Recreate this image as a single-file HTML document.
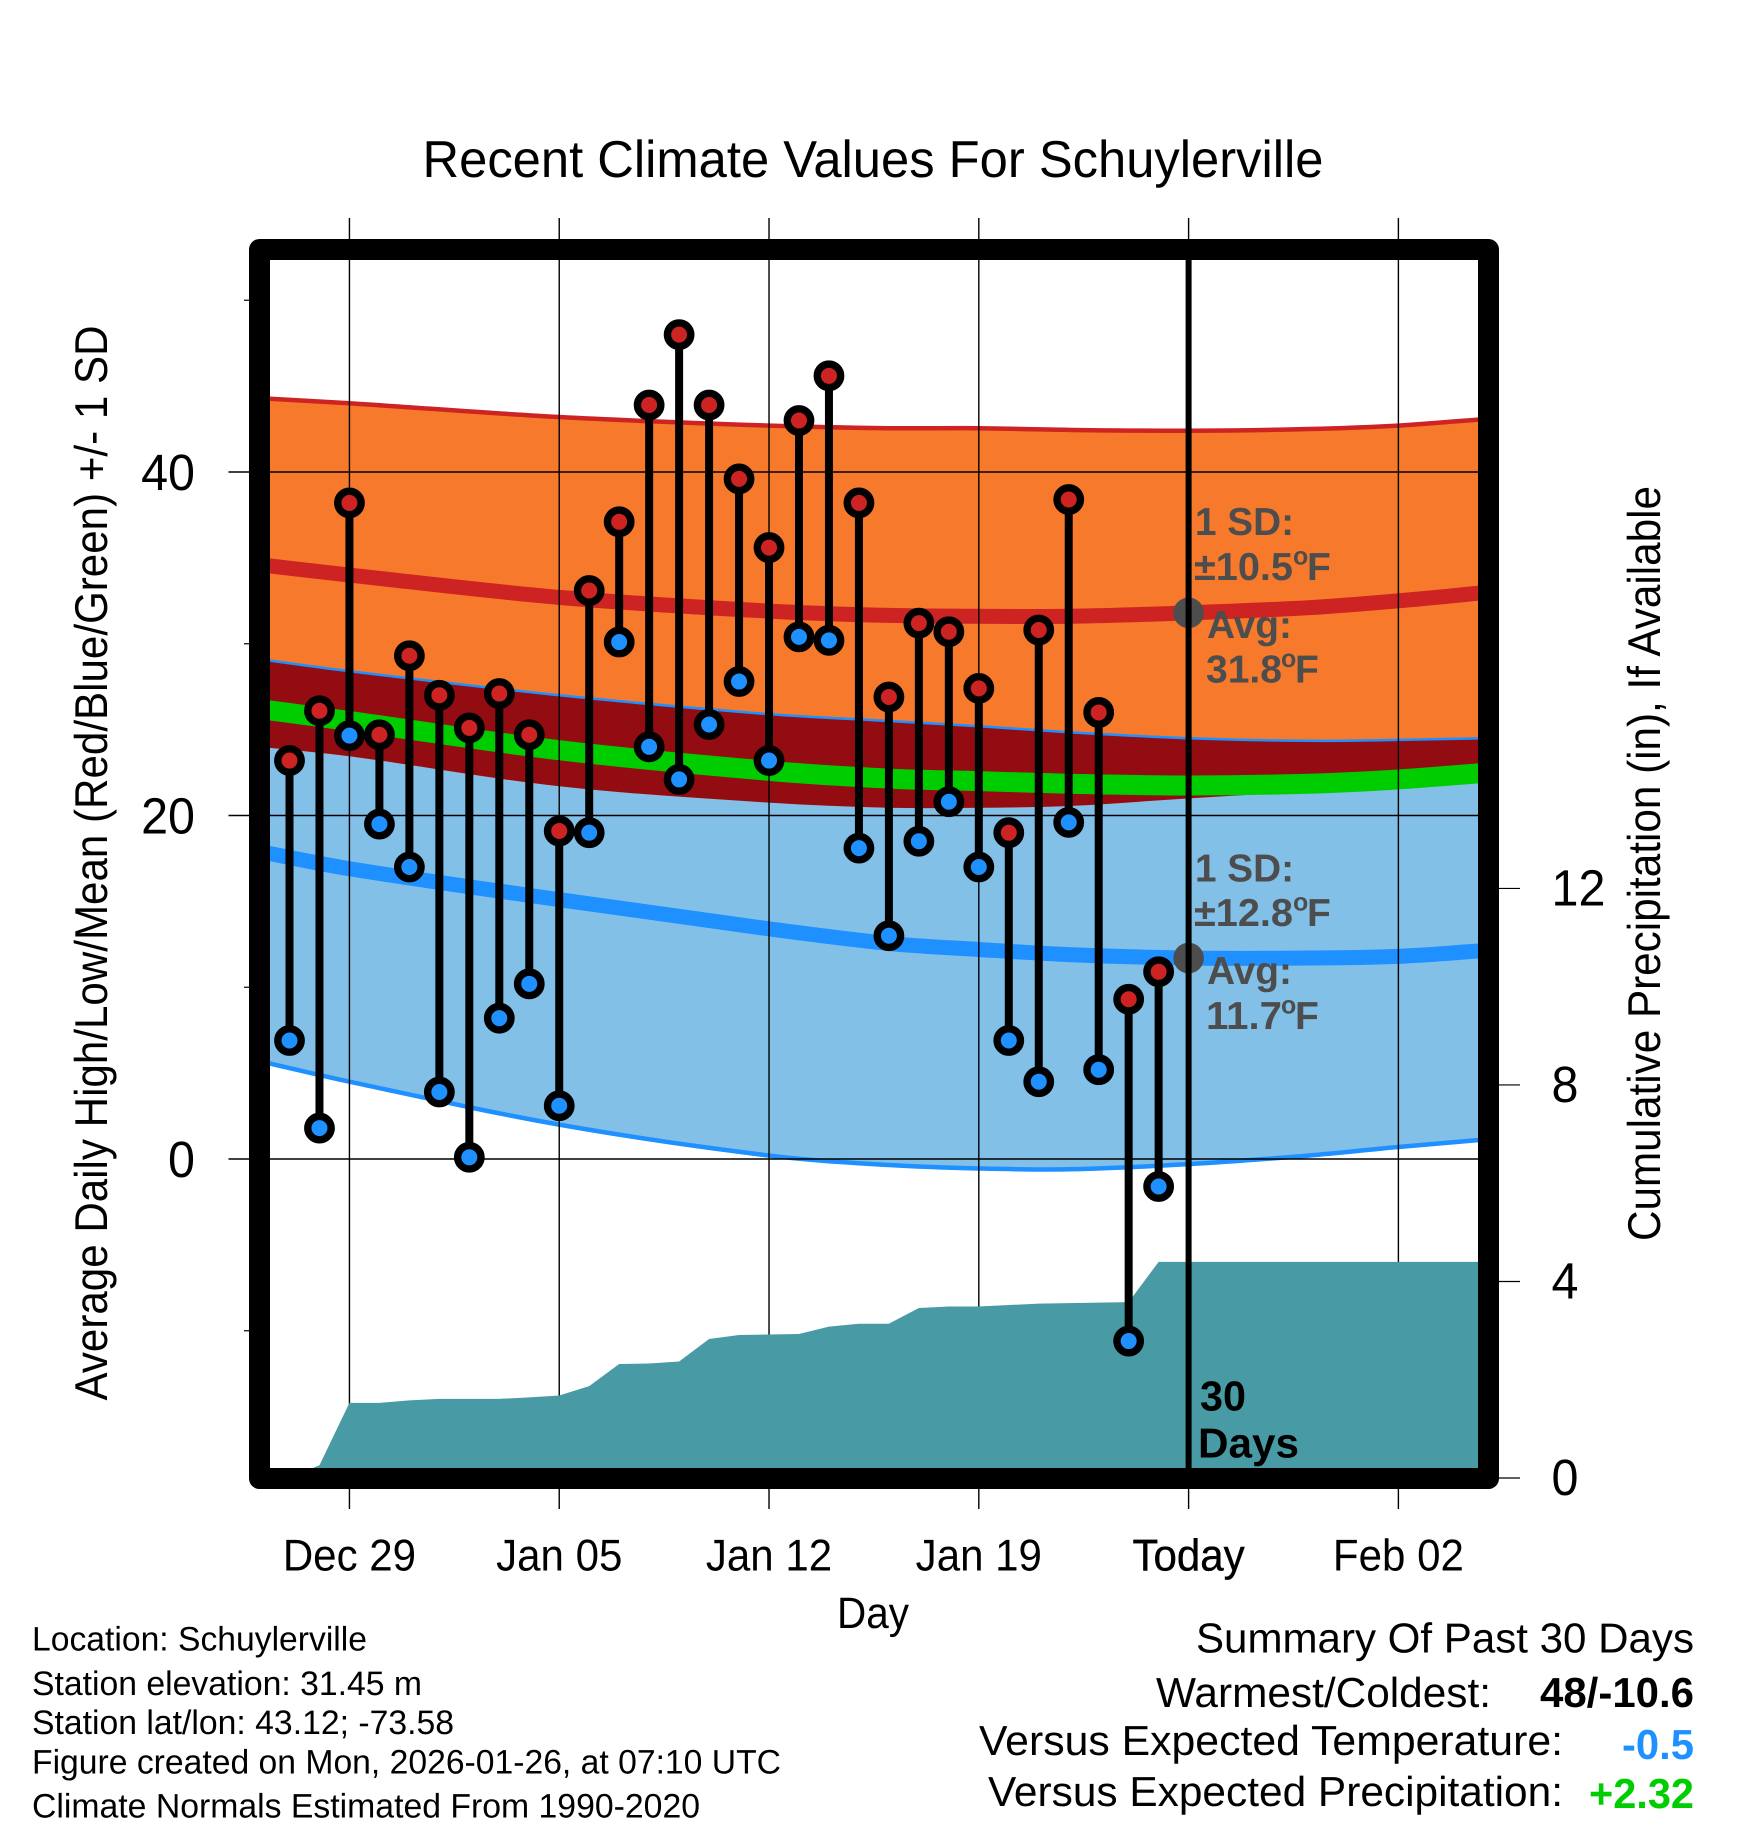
<!DOCTYPE html>
<html lang="en">
<head>
<meta charset="utf-8">
<title>Recent Climate Values For Schuylerville</title>
<style>
html,body{margin:0;padding:0;background:#fff;}
svg{display:block;}
text{font-family:"Liberation Sans",Arial,sans-serif;fill:#000;text-rendering:geometricPrecision;}
.anno{font-weight:bold;font-size:39px;fill:#4d4d4d;}
.sup{font-weight:bold;font-size:25px;fill:#4d4d4d;}
.info{font-size:34px;}
.sum{font-size:42px;}
.val{font-size:42px;font-weight:bold;}
</style>
</head>
<body>
<svg id="chart" xmlns="http://www.w3.org/2000/svg" width="1748" height="1828" viewBox="0 0 1748 1828">
  <defs><clipPath id="plot-clip"><rect x="270" y="260" width="1208" height="1208"/></clipPath></defs>
  <g id="plot-layer" clip-path="url(#plot-clip)"></g>
  <g id="grid-layer"></g>
  <g id="upper-layer" clip-path="url(#plot-clip)"></g>
  <rect x="259.5" y="249.5" width="1229" height="1229" fill="none" stroke="#000" stroke-width="21" stroke-linejoin="round"/>
  <g id="label-layer"></g>

  <text x="873" y="177" font-size="52" text-anchor="middle" textLength="901" lengthAdjust="spacingAndGlyphs">Recent Climate Values For Schuylerville</text>
  <text transform="translate(107,863) rotate(-90)" font-size="46" text-anchor="middle" textLength="1075" lengthAdjust="spacingAndGlyphs">Average Daily High/Low/Mean (Red/Blue/Green) +/- 1 SD</text>
  <text transform="translate(1660,863.5) rotate(-90)" font-size="46" text-anchor="middle" textLength="755" lengthAdjust="spacingAndGlyphs">Cumulative Precipitation (in), If Available</text>
  <text x="873" y="1628" font-size="44" text-anchor="middle" textLength="72" lengthAdjust="spacingAndGlyphs">Day</text>

  <g>
    <text class="anno" x="1195" y="535" textLength="99" lengthAdjust="spacingAndGlyphs">1 SD:</text>
    <text class="anno" x="1194" y="580" textLength="99" lengthAdjust="spacingAndGlyphs">±10.5</text>
    <text class="sup" x="1293" y="564.5">o</text>
    <text class="anno" x="1307" y="580">F</text>
    <text class="anno" x="1207" y="638" textLength="85" lengthAdjust="spacingAndGlyphs">Avg:</text>
    <text class="anno" x="1206" y="682.5" textLength="76" lengthAdjust="spacingAndGlyphs">31.8</text>
    <text class="sup" x="1281" y="667">o</text>
    <text class="anno" x="1295" y="682.5">F</text>
  </g>
  <g>
    <text class="anno" x="1195" y="881.5" textLength="99" lengthAdjust="spacingAndGlyphs">1 SD:</text>
    <text class="anno" x="1194" y="926" textLength="99" lengthAdjust="spacingAndGlyphs">±12.8</text>
    <text class="sup" x="1293" y="910.5">o</text>
    <text class="anno" x="1307" y="926">F</text>
    <text class="anno" x="1207" y="984" textLength="85" lengthAdjust="spacingAndGlyphs">Avg:</text>
    <text class="anno" x="1206" y="1029" textLength="76" lengthAdjust="spacingAndGlyphs">11.7</text>
    <text class="sup" x="1281" y="1013.5">o</text>
    <text class="anno" x="1295" y="1029">F</text>
  </g>
  <text x="1200" y="1410.5" font-size="42" font-weight="bold" textLength="46" lengthAdjust="spacingAndGlyphs">30</text>
  <text x="1198" y="1457.5" font-size="42" font-weight="bold" textLength="101" lengthAdjust="spacingAndGlyphs">Days</text>

  <g>
    <text class="info" x="32" y="1650.5" textLength="335" lengthAdjust="spacingAndGlyphs">Location: Schuylerville</text>
    <text class="info" x="32" y="1695" textLength="390" lengthAdjust="spacingAndGlyphs">Station elevation: 31.45 m</text>
    <text class="info" x="32" y="1734" textLength="422" lengthAdjust="spacingAndGlyphs">Station lat/lon: 43.12; -73.58</text>
    <text class="info" x="32" y="1773.3" textLength="749" lengthAdjust="spacingAndGlyphs">Figure created on Mon, 2026-01-26, at 07:10 UTC</text>
    <text class="info" x="32" y="1817.5" textLength="668" lengthAdjust="spacingAndGlyphs">Climate Normals Estimated From 1990-2020</text>
  </g>
  <g>
    <text class="sum" x="1694" y="1652.5" text-anchor="end" textLength="498" lengthAdjust="spacingAndGlyphs">Summary Of Past 30 Days</text>
    <text class="sum" x="1491" y="1707" text-anchor="end" textLength="335" lengthAdjust="spacingAndGlyphs">Warmest/Coldest:</text>
    <text class="val" x="1694" y="1707" text-anchor="end" textLength="154" lengthAdjust="spacingAndGlyphs">48/-10.6</text>
    <text class="sum" x="1563" y="1755" text-anchor="end" textLength="584" lengthAdjust="spacingAndGlyphs">Versus Expected Temperature:</text>
    <text class="val" x="1694" y="1759" text-anchor="end" textLength="72" lengthAdjust="spacingAndGlyphs" style="fill:#1e90ff">-0.5</text>
    <text class="sum" x="1563" y="1806" text-anchor="end" textLength="575" lengthAdjust="spacingAndGlyphs">Versus Expected Precipitation:</text>
    <text class="val" x="1694" y="1808" text-anchor="end" textLength="105" lengthAdjust="spacingAndGlyphs" style="fill:#00cd00">+2.32</text>
  </g>
</svg>
<script>
// Daily observations, Dec 27 through Jan 25 (day number 0 = Dec 27)
var dailyHigh = [23.2,26.1,38.2,24.7,29.3,27.0,25.1,27.1,24.7,19.1,33.1,37.1,43.9,48.0,43.9,39.6,35.6,43.0,45.6,38.2,26.9,31.2,30.7,27.4,19.0,30.8,38.4,26.0,9.3,10.9];
var dailyLow = [6.9,1.8,24.65,19.5,17.0,3.9,0.1,8.2,10.2,3.1,19.0,30.1,24.0,22.1,25.3,27.8,23.2,30.4,30.2,18.1,13.0,18.5,20.8,17.0,6.9,4.5,19.6,5.2,-10.6,-1.6];
var cumulativePrecip = [0,0.26,1.53,1.53,1.58,1.61,1.61,1.61,1.64,1.68,1.87,2.32,2.33,2.37,2.83,2.91,2.92,2.93,3.08,3.14,3.14,3.46,3.49,3.49,3.52,3.55,3.56,3.57,3.58,4.40,4.40,4.40,4.40,4.40,4.40,4.40,4.40,4.40,4.40,4.40,4.40];

// Climate normals, read at these day numbers
var normalDays = [-1,2,9,16,20,23,26,30,34,37,40];
var highUpper = [44.3,44.0,43.2,42.7,42.55,42.55,42.45,42.4,42.5,42.7,43.1];
var highMean = [34.6,34.0,32.7,31.9,31.65,31.6,31.6,31.8,32.1,32.5,33.0];
var highLower = [24.0,23.45,21.7,20.75,20.45,20.45,20.55,21.0,21.4,21.65,22.0];
var overallMean = [26.2,25.5,23.8,22.6,22.15,22.0,21.85,21.75,21.85,22.1,22.5];
var lowUpper = [29.1,28.4,27.0,25.9,25.5,25.2,24.85,24.5,24.35,24.4,24.5];
var lowMean = [17.9,16.9,15.1,13.4,12.55,12.2,11.9,11.7,11.7,11.8,12.15];
var lowLower = [5.7,4.5,2.0,0.2,-0.35,-0.55,-0.6,-0.3,0.2,0.7,1.15];

// Axis ticks
var xTickDays = [2,9,16,23,30,37];
var xTickLabels = ["Dec 29","Jan 05","Jan 12","Jan 19","Today","Feb 02"];
var tempMajorTicks = [40,20,0];
var tempMinorTicks = [50,30,10,-10];
var precipTicks = [0,4,8,12];
var todayDay = 30;
var todayHighAvg = 31.8;
var todayLowAvg = 11.7;

function xDay(d){ return 289.5 + d * 29.97; }
function yTemp(t){ return 1159 - t * 17.175; }
function yPrecip(p){ return 1478 - p * 49.13; }

var NS = 'http://www.w3.org/2000/svg';
function make(tag, parent, props){
  var el = document.createElementNS(NS, tag);
  for (var k in props) { el.setAttribute(k, props[k]); }
  parent.appendChild(el);
  return el;
}
// Smooth curve segments through the values (Hermite tangents as cubic Beziers)
function curveSegments(days, vals){
  var xs = days.map(xDay), ys = vals.map(yTemp), n = xs.length, out = '';
  function slope(i){
    var a = Math.max(0, i - 1), b = Math.min(n - 1, i + 1);
    return (ys[b] - ys[a]) / (xs[b] - xs[a]);
  }
  for (var i = 0; i < n - 1; i++) {
    var dx = (xs[i+1] - xs[i]) / 3;
    out += ' C' + (xs[i] + dx).toFixed(2) + ' ' + (ys[i] + slope(i) * dx).toFixed(2) + ' ' +
      (xs[i+1] - dx).toFixed(2) + ' ' + (ys[i+1] - slope(i+1) * dx).toFixed(2) + ' ' +
      xs[i+1].toFixed(2) + ' ' + ys[i+1].toFixed(2);
  }
  return out;
}
function startPoint(days, vals){ return xDay(days[0]).toFixed(2) + ' ' + yTemp(vals[0]).toFixed(2); }
function linePath(days, vals){ return 'M' + startPoint(days, vals) + curveSegments(days, vals); }
function bandPath(days, top, bottom){
  var rd = days.slice().reverse(), rb = bottom.slice().reverse();
  return 'M' + startPoint(days, top) + curveSegments(days, top) + ' L' + startPoint(rd, rb) + curveSegments(rd, rb) + ' Z';
}
function condense(t, factor){
  t.setAttribute('textLength', (t.getComputedTextLength() * factor).toFixed(2));
  t.setAttribute('lengthAdjust', 'spacingAndGlyphs');
}

var plot = document.getElementById('plot-layer');
var grid = document.getElementById('grid-layer');
var upper = document.getElementById('upper-layer');
var labels = document.getElementById('label-layer');

var lowBand = make('path', plot, {d: bandPath(normalDays, lowUpper, lowLower), fill: '#82c0e8'});



var highBand = make('path', plot, {d: bandPath(normalDays, highUpper, highLower), fill: '#f7792b'});



var overlapBand = make('path', plot, {d: bandPath(normalDays, lowUpper, highLower), fill: '#930c12'});



var highUpperLine = make('path', plot, {d: linePath(normalDays, highUpper), fill: 'none', stroke: '#cd2323', 'stroke-width': 4.5});



var lowUpperLine = make('path', plot, {d: linePath(normalDays, lowUpper), fill: 'none', stroke: '#1e90ff', 'stroke-width': 2.5});



var lowLowerLine = make('path', plot, {d: linePath(normalDays, lowLower), fill: 'none', stroke: '#1e90ff', 'stroke-width': 4.5});



var highMeanLine = make('path', plot, {d: linePath(normalDays, highMean), fill: 'none', stroke: '#cd2323', 'stroke-width': 15});



var lowMeanLine = make('path', plot, {d: linePath(normalDays, lowMean), fill: 'none', stroke: '#1e90ff', 'stroke-width': 15});



var overallMeanLine = make('path', plot, {d: linePath(normalDays, overallMean), fill: 'none', stroke: '#00cd00', 'stroke-width': 20});



// Vertical gridlines, bottom ticks and date labels
xTickDays.forEach(function(d, i){
  var x = xDay(d);
  var gl = make('line', grid, {x1: x, x2: x, y1: 218, y2: 1509, stroke: '#000', 'stroke-width': 1.4});
  
  
  var t = make('text', labels, {x: x, y: 1570.5, 'font-size': 44.5, 'text-anchor': 'middle'});
  t.textContent = xTickLabels[i];
  if (xTickLabels[i] === 'Today') { t.setAttribute('style', 'stroke:#000;stroke-width:.4px'); }
  
  
  condense(t, 0.945);
});

// Left axis gridlines and labels
tempMajorTicks.forEach(function(v){
  var y = yTemp(v);
  var gl = make('line', grid, {x1: 228.5, x2: 1478, y1: y, y2: y, stroke: '#000', 'stroke-width': 1.4});
  
  
  var t = make('text', labels, {x: 195, y: y + 18, 'font-size': 51, 'text-anchor': 'end'});
  t.textContent = String(v);
  
  
  condense(t, 0.95);
});
tempMinorTicks.forEach(function(v){
  var y = yTemp(v);
  var tk = make('line', grid, {x1: 244, x2: 250, y1: y, y2: y, stroke: '#000', 'stroke-width': 1.2});
  
  
});

// Right axis ticks and labels
precipTicks.forEach(function(v){
  var y = yPrecip(v);
  var tk = make('line', labels, {x1: 1499, x2: 1520, y1: y, y2: y, stroke: '#000', 'stroke-width': 1.2});
  
  
  var t = make('text', labels, {x: 1551.5, y: y + 17, 'font-size': 51});
  t.textContent = String(v);
  
  
  condense(t, 0.95);
});

// Cumulative precipitation area
var precipPts = cumulativePrecip.map(function(p,i){ return xDay(i).toFixed(2)+','+yPrecip(p).toFixed(2); });
precipPts.push(xDay(cumulativePrecip.length-1).toFixed(2)+','+yPrecip(0));
precipPts.push(xDay(0).toFixed(2)+','+yPrecip(0));
var precipArea = make('polygon', upper, {points: precipPts.join(' '), fill: '#489aa5'});



// Today's averages and marker line
var highDot = make('circle', upper, {cx: xDay(todayDay), cy: yTemp(todayHighAvg), r: 15.3, fill: '#4d4d4d'});



var lowDot = make('circle', upper, {cx: xDay(todayDay), cy: yTemp(todayLowAvg), r: 15.3, fill: '#4d4d4d'});



var todayLine = make('line', upper, {x1: xDay(todayDay), x2: xDay(todayDay), y1: 260, y2: 1468, stroke: '#000', 'stroke-width': 6});



// Daily high / low stems and dots
dailyHigh.forEach(function(h, i){
  var x = xDay(i);
  var stem = make('line', upper, {x1: x, x2: x, y1: yTemp(h), y2: yTemp(dailyLow[i]), stroke: '#000', 'stroke-width': 8});
  
  
  var lowPoint = make('circle', upper, {cx: x, cy: yTemp(dailyLow[i]), r: 11.7, fill: '#1e90ff', stroke: '#000', 'stroke-width': 7.4});
  
  
  var highPoint = make('circle', upper, {cx: x, cy: yTemp(h), r: 11.7, fill: '#cd2323', stroke: '#000', 'stroke-width': 7.4});
  
  
});
</script>
</body>
</html>
